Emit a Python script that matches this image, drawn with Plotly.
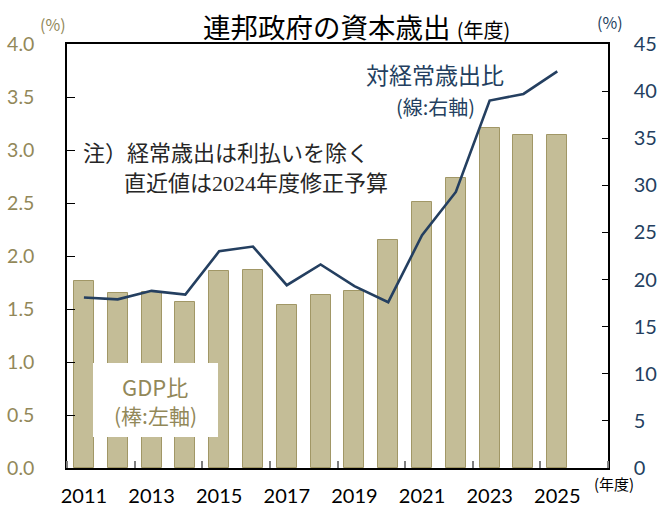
import plotly.graph_objects as go

years = list(range(2011, 2026))
gdp_ratio = [1.76, 1.65, 1.66, 1.57, 1.86, 1.87, 1.54, 1.63, 1.67, 2.15, 2.51, 2.74, 3.21, 3.14, 3.14]
exp_ratio = [18.1, 17.9, 18.8, 18.4, 23.0, 23.5, 19.4, 21.6, 19.3, 17.6, 24.7, 29.3, 39.0, 39.7, 42.1]
x_tick_years = [2011, 2013, 2015, 2017, 2019, 2021, 2023, 2025]

JP = "Noto Sans CJK JP"
NUM = "Lato, Noto Sans CJK JP"
OLIVE = "#928859"
NAVY = "#243f60"
BAR_FILL = "#c4bd97"
BAR_LINE = "#a19766"

W, H = 659, 509
ML, MR, MT, MB = 67, 51, 44, 41

fig = go.Figure()
fig.add_trace(go.Bar(x=years, y=gdp_ratio, width=0.59,
                     marker=dict(color=BAR_FILL, line=dict(color=BAR_LINE, width=1)),
                     yaxis="y", showlegend=False))
fig.add_trace(go.Scatter(x=years, y=exp_ratio, mode="lines",
                         line=dict(color=NAVY, width=2.6), yaxis="y2", showlegend=False))

fig.update_layout(
    width=W, height=H,
    margin=dict(l=ML, r=MR, t=MT, b=MB, autoexpand=False),
    plot_bgcolor="white", paper_bgcolor="white",
    font=dict(family=JP),
    bargap=0,
    xaxis=dict(range=[2010.5, 2026.5], tickvals=x_tick_years, ticks="",
               tickfont=dict(family=NUM, size=20, color="black"),
               showline=True, linecolor="black", linewidth=1.5, mirror=True,
               showgrid=False, zeroline=False, ticklabelstandoff=9, automargin=False,
               minor=dict(tick0=2012.5, dtick=2, ticks="inside", ticklen=7,
                          tickcolor="#7f7f7f", tickwidth=1.5, showgrid=False)),
    yaxis=dict(range=[0, 4], dtick=0.5, tickformat=".1f", ticks="inside", ticklen=8,
               tickcolor="black", tickfont=dict(family=NUM, size=19.5, color=OLIVE),
               showline=True, linecolor="black", linewidth=1.5, automargin=False,
               showgrid=False, zeroline=False, ticklabelstandoff=27),
    yaxis2=dict(range=[0, 45], dtick=5, ticks="inside", ticklen=6, tickcolor="black",
                overlaying="y", side="right", automargin=False,
                tickfont=dict(family=NUM, size=20, color=NAVY),
                showline=True, linecolor="black", linewidth=1.5,
                showgrid=False, zeroline=False, ticklabelstandoff=20),
)


def px2paper(x, y):
    return (x - ML) / (W - ML - MR), 1 - (y - MT) / (H - MT - MB)


# white box behind GDP label
bx0, by0 = px2paper(93, 363)
bx1, by1 = px2paper(218, 437)
fig.add_shape(type="rect", xref="paper", yref="paper", x0=bx0, y0=by1, x1=bx1, y1=by0,
              fillcolor="white", line=dict(width=0), layer="above")

centered = [
    (356, 26, "連邦政府の資本歳出 <span style='font-size:20px'>(年度)</span>", 27.5, "black"),
    (53, 24, "(%)", 16, OLIVE),
    (610, 22, "(%)", 16, NAVY),
    (435, 74, "対経常歳出比", 23, NAVY),
    (435, 106, "(線:右軸)", 20, NAVY),
    (614, 483, "(年度)", 15, "black"),
    (155, 386, "GDP比", 22, OLIVE),
    (155, 415, "(棒:左軸)", 21, OLIVE),
]
for x, y, t, s, c in centered:
    px, py = px2paper(x, y)
    fig.add_annotation(xref="paper", yref="paper", x=px, y=py, text=t,
                       font=dict(family=JP, size=s, color=c), showarrow=False,
                       xanchor="center", yanchor="middle")

notes = [
    (81, 151, "注）経常歳出は利払いを除く"),
    (122, 181, "直近値は<span style='font-family:Liberation Serif'>2024</span>年度修正予算"),
]
for x, y, t in notes:
    px, py = px2paper(x, y)
    fig.add_annotation(xref="paper", yref="paper", x=px, y=py, text=t,
                       font=dict(family=JP, size=22, color="#262626"), showarrow=False,
                       xanchor="left", yanchor="middle")

fig.write_html("out.html", config={"displayModeBar": False},
               post_script="document.body.style.margin='0';document.body.style.overflow='hidden';")
